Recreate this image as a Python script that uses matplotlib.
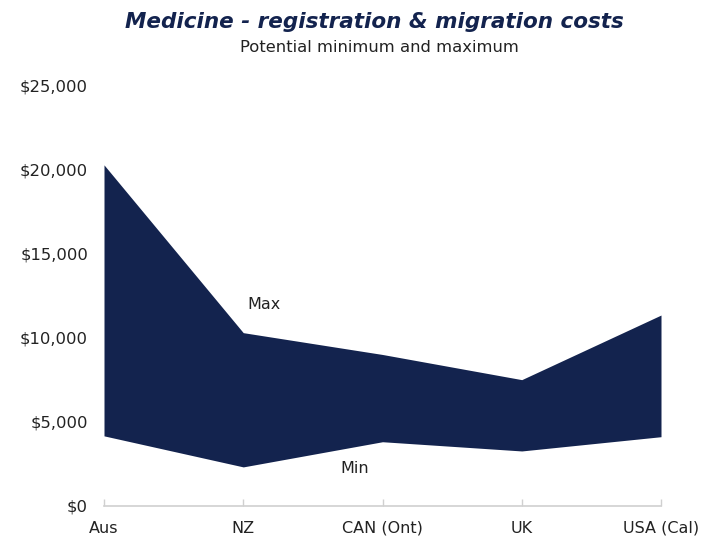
import matplotlib
matplotlib.use("Agg")
import matplotlib.pyplot as plt
from matplotlib.ticker import FuncFormatter

categories = ["Aus", "NZ", "CAN (Ont)", "UK", "USA (Cal)"]
max_cost = [20300, 10300, 9000, 7500, 11350]
min_cost = [4150, 2300, 3800, 3250, 4100]
yticks = [0, 5000, 10000, 15000, 20000, 25000]

navy = "#13234E"
plt.rcParams['font.family'] = ['DejaVu Sans']

fig = plt.figure(figsize=(7.11, 5.36), dpi=100)
ax = fig.add_axes([104/711, 1-505.5/536, (661-104)/711, (505.5-86)/536])

x = list(range(len(categories)))
ax.fill_between(x, min_cost, max_cost, color=navy, linewidth=0)

ax.set_xlim(0, len(categories)-1)
ax.set_ylim(0, 25000)
ax.set_yticks(yticks)
ax.yaxis.set_major_formatter(FuncFormatter(lambda v, p: f"${v:,.0f}"))
ax.set_xticks(x)
ax.set_xticklabels(categories)

for s in ["top", "right", "left"]:
    ax.spines[s].set_visible(False)
ax.spines["bottom"].set_color("#d0d0d0")
ax.spines["bottom"].set_linewidth(1.2)
ax.tick_params(axis="y", length=0, pad=11.5, labelsize=11.8, labelcolor="#222222")
ax.tick_params(axis="x", direction="in", length=5, color="#d0d0d0", width=1,
               pad=11, labelsize=11.5, labelcolor="#222222")

ax.text(1.15, 11950, "Max", ha="center", va="center", fontsize=11.5, color="#222222")
ax.text(1.80, 2230, "Min", ha="center", va="center", fontsize=11.5, color="#222222")

fig.text(374/711, 1-22/536, "Medicine - registration & migration costs", ha="center", va="center",
         fontsize=15.5, fontweight="bold", fontstyle="italic", color=navy)
fig.text(379/711, 1-48/536, "Potential minimum and maximum", ha="center", va="center",
         fontsize=11.8, color="#222222")

fig.savefig("out.png", dpi=100)
